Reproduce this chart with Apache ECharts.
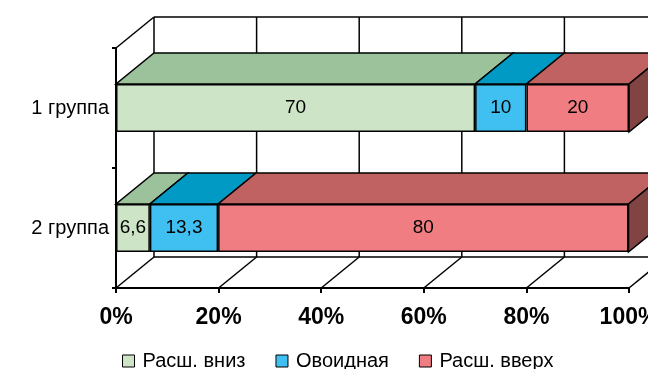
<!DOCTYPE html>
<html>
<head>
<meta charset="utf-8">
<script src="https://cdn.jsdelivr.net/npm/echarts@6/dist/echarts.min.js"></script>
<style>
  html, body { margin: 0; padding: 0; background: #fff; }
  #main { width: 648px; height: 369px; }
</style>
</head>
<body>
<div id="main"></div>
<script>
// данные
var groups = ['1 группа', '2 группа'];
var seriesNames = ['Расш. вниз', 'Овоидная', 'Расш. вверх'];
var down = [70, 6.6];
var ovoid = [10, 13.3];
var up = [20, 80];
var xTicks = [0, 20, 40, 60, 80, 100];

var values = [down, ovoid, up];

// цвета: лицевая грань, верх, бок
var front = ['#CDE4C6', '#40C0F0', '#EF7D81'];
var top3d = ['#9CC29C', '#009AC4', '#C06262'];
var side3d = ['#824343', '#824343', '#824343'];

var DX = 38, DY = -31; // глубина 3D
var BAR_H = 48;
var LW = 1.5;

var chart = echarts.init(document.getElementById('main'));

// строки для верхних граней: [начало, конец, группа, номер ряда]
var faces = [];
for (var g = 0; g < groups.length; g++) {
    var acc = 0;
    for (var s = 0; s < values.length; s++) {
        faces.push([acc, acc + values[s][g], g, s]);
        acc += values[s][g];
    }
}

function wallItem(params, api) {
    var cs = params.coordSys;
    var v = api.value(0);
    var x = api.coord([v, 0])[0];
    var top = cs.y, bottom = cs.y + cs.height;
    var st = { stroke: '#000', lineWidth: LW };
    var children = [
        { type: 'line', shape: { x1: x, y1: bottom, x2: x + DX, y2: bottom + DY }, style: st },
        { type: 'line', shape: { x1: x + DX, y1: top + DY, x2: x + DX, y2: bottom + DY }, style: st }
    ];
    if (params.dataIndex === 0) {
        var xEnd = api.coord([100, 0])[0];
        children.push({ type: 'line', shape: { x1: x + DX, y1: top + DY, x2: xEnd + DX, y2: top + DY }, style: st });
        children.push({ type: 'line', shape: { x1: x + DX, y1: bottom + DY, x2: xEnd + DX, y2: bottom + DY }, style: st });
        children.push({ type: 'line', shape: { x1: x, y1: top, x2: x + DX, y2: top + DY }, style: st });
    }
    return { type: 'group', children: children };
}

function faceItem(params, api) {
    var p0 = api.coord([api.value(0), api.value(2)]);
    var p1 = api.coord([api.value(1), api.value(2)]);
    var s = api.value(3);
    var y0 = p0[1] - BAR_H / 2, y1 = p0[1] + BAR_H / 2;
    var xs = p0[0], xe = p1[0];
    var children = [{
        type: 'polygon',
        shape: { points: [[xs, y0], [xe, y0], [xe + DX, y0 + DY], [xs + DX, y0 + DY]] },
        style: { fill: top3d[s], stroke: '#000', lineWidth: LW }
    }];
    if (s === values.length - 1) {
        children.push({
            type: 'polygon',
            shape: { points: [[xe, y0], [xe, y1], [xe + DX, y1 + DY], [xe + DX, y0 + DY]] },
            style: { fill: side3d[s], stroke: '#000', lineWidth: LW }
        });
    }
    return { type: 'group', children: children };
}

var barSeries = seriesNames.map(function (name, i) {
    return {
        name: name,
        type: 'bar',
        stack: 'total',
        barWidth: BAR_H,
        z: 3,
        data: values[i],
        itemStyle: { color: front[i], borderColor: '#000', borderWidth: LW },
        label: {
            show: true,
            position: 'inside',
            color: '#000',
            fontSize: 19,
            formatter: function (p) { return String(p.value).replace('.', ','); }
        }
    };
});

var option = {
    animation: false,
    backgroundColor: '#fff',
    textStyle: { fontFamily: 'Liberation Sans, Arial' },
    grid: { left: 116, right: 19, top: 48, bottom: 81, containLabel: false, outerBoundsMode: 'none' },
    legend: {
        data: seriesNames,
        left: 117,
        top: 346,
        itemWidth: 12,
        itemHeight: 12,
        itemGap: 30,
        icon: 'rect',
        itemStyle: { borderColor: '#000', borderWidth: 1 },
        textStyle: { fontSize: 20, color: '#000', padding: [0, 0, 0, 3] }
    },
    xAxis: {
        type: 'value',
        min: 0,
        max: 100,
        interval: 20,
        axisLine: { show: true, lineStyle: { color: '#000', width: 2 } },
        axisTick: { show: true, length: 5, lineStyle: { color: '#000', width: 2 } },
        splitLine: { show: false },
        axisLabel: {
            color: '#000',
            fontSize: 23,
            fontWeight: 'bold',
            margin: 18,
            formatter: '{value}%'
        }
    },
    yAxis: {
        type: 'category',
        inverse: true,
        data: groups,
        axisLine: { show: true, lineStyle: { color: '#000', width: 2 } },
        axisTick: { show: true, length: 4, lineStyle: { color: '#000', width: 2 } },
        axisLabel: { color: '#000', fontSize: 20, margin: 7 }
    },
    series: [
        {
            type: 'custom',
            name: 'walls',
            z: 1,
            silent: true,
            renderItem: wallItem,
            encode: { x: 0 },
            data: xTicks.map(function (v) { return [v]; })
        },
        {
            type: 'custom',
            name: 'faces',
            z: 2,
            silent: true,
            renderItem: faceItem,
            encode: { x: [0, 1], y: 2 },
            data: faces
        }
    ].concat(barSeries)
};

chart.setOption(option);
</script>
</body>
</html>
